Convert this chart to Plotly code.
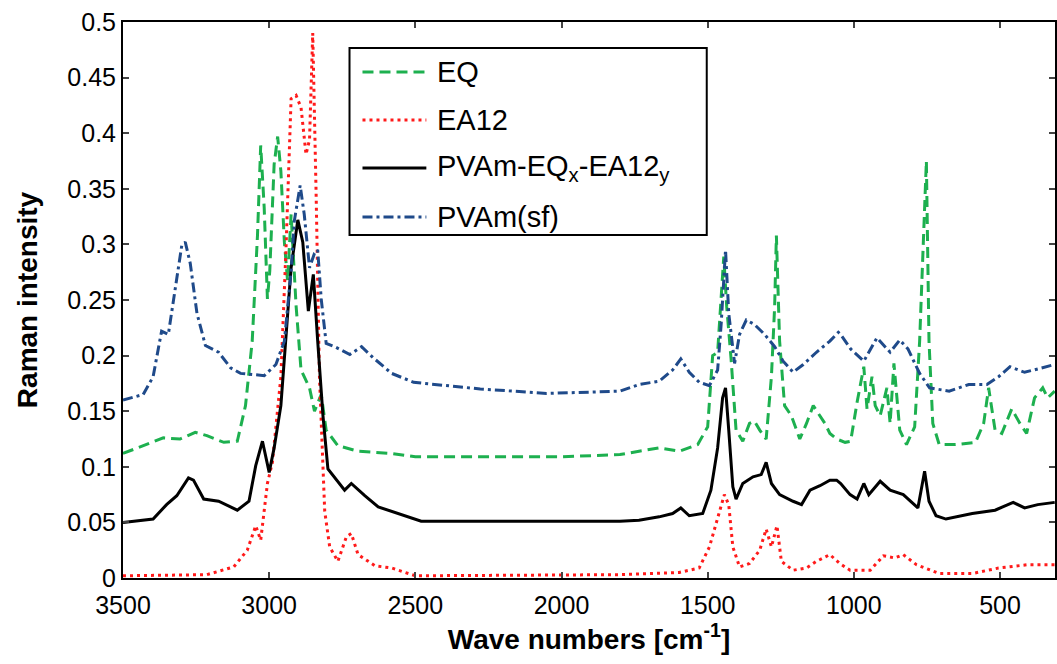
import plotly.graph_objects as go

# ---------------- data ----------------
sf_wn = [3500, 3431, 3397, 3368, 3345, 3322, 3299, 3287, 3270, 3247, 3218, 3173, 3132, 3098, 3017, 2977,
         2948, 2925, 2914, 2894, 2880, 2862, 2845, 2834, 2822, 2805, 2776, 2724, 2684, 2644, 2581, 2506,
         2278, 2051, 1800, 1735, 1666, 1620, 1592, 1563, 1529, 1494, 1466, 1454, 1439, 1428, 1408, 1391,
         1368, 1340, 1305, 1271, 1242, 1208, 1173, 1128, 1082, 1053, 1045, 1011, 966, 921, 876, 843, 815,
         775, 741, 674, 607, 545, 505, 466, 416, 371, 313]
sf_val = [.160, .165, .181, .222, .219, .257, .299, .302, .283, .238, .209, .203, .189, .184, .182, .192,
          .213, .276, .321, .353, .327, .279, .292, .295, .251, .211, .208, .201, .208, .198, .184, .176,
          .170, .166, .168, .174, .177, .187, .197, .185, .176, .173, .187, .228, .295, .238, .193, .219,
          .232, .228, .219, .208, .195, .185, .192, .203, .213, .221, .219, .206, .195, .216, .203, .214, .206,
          .184, .171, .168, .174, .174, .181, .190, .185, .188, .192]

eq_wn = [3500, 3431, 3362, 3305, 3253, 3213, 3155, 3109, 3081, 3058, 3040, 3029, 3017, 3006, 2998, 2983,
         2971, 2960, 2948, 2937, 2925, 2908, 2891, 2862, 2845, 2822, 2805, 2765, 2696, 2581, 2500, 2000,
         1800, 1735, 1666, 1597, 1534, 1500, 1483, 1466, 1454, 1445, 1435, 1420, 1403, 1380, 1357, 1340,
         1322, 1300, 1282, 1271, 1265, 1254, 1237, 1214, 1185, 1162, 1139, 1116, 1099, 1082, 1059, 1030,
         1011, 989, 966, 955, 938, 927, 910, 887, 876, 863, 843, 820, 792, 775, 761, 752, 743, 730, 708,
         652, 584, 556, 539, 517, 494, 460, 432, 409, 382, 354, 337, 313]
eq_val = [.112, .119, .126, .125, .131, .128, .122, .123, .155, .213, .308, .389, .333, .251, .276, .372,
          .397, .366, .302, .267, .327, .245, .187, .171, .150, .165, .133, .119, .114, .112, .109, .109,
          .111, .114, .117, .114, .120, .136, .200, .203, .257, .289, .244, .197, .133, .123, .139, .141,
          .133, .125, .181, .244, .308, .213, .155, .146, .125, .139, .155, .146, .139, .130, .125, .122,
          .123, .158, .190, .152, .181, .155, .146, .171, .139, .193, .133, .120, .136, .213, .308, .375,
          .213, .139, .120, .120, .122, .139, .171, .133, .130, .152, .139, .130, .162, .171, .162, .168]

mix_wn = [3500, 3397, 3351, 3316, 3276, 3259, 3224, 3173, 3109, 3069, 3046, 3023, 3000, 2983, 2960, 2943,
          2925, 2902, 2885, 2866, 2849, 2834, 2816, 2799, 2742, 2719, 2673, 2627, 2581, 2480, 2000, 1800,
          1735, 1666, 1620, 1592, 1563, 1517, 1489, 1466, 1449, 1439, 1428, 1414, 1403, 1380, 1345, 1317,
          1300, 1282, 1254, 1208, 1179, 1150, 1116, 1082, 1059, 1045, 1013, 989, 966, 949, 910, 876, 831,
          781, 758, 743, 719, 685, 595, 517, 455, 416, 371, 313]
mix_val = [.050, .053, .066, .074, .090, .088, .071, .069, .061, .069, .101, .123, .095, .117, .155, .219,
           .279, .322, .302, .240, .273, .213, .146, .098, .079, .085, .074, .064, .060, .051, .051, .051,
           .052, .055, .058, .063, .056, .058, .079, .117, .162, .171, .133, .082, .071, .085, .091, .093,
           .104, .085, .075, .069, .066, .079, .083, .088, .088, .085, .075, .071, .085, .075, .087, .079, .075,
           .063, .096, .069, .056, .053, .058, .061, .068, .063, .066, .068]

ea_wn = [3500, 3213, 3121, 3075, 3046, 3029, 3006, 2989, 2960, 2943, 2925, 2908, 2891, 2874, 2862, 2851,
         2839, 2828, 2810, 2793, 2765, 2736, 2719, 2696, 2638, 2581, 2500, 1800, 1597, 1529, 1494, 1466,
         1443, 1428, 1414, 1391, 1357, 1322, 1300, 1282, 1263, 1248, 1208, 1162, 1128, 1082, 1048, 1013,
         944, 899, 860, 831, 786, 708, 595, 505, 404, 313]
ea_val = [.002, .003, .010, .025, .047, .034, .085, .104, .181, .292, .431, .434, .423, .381, .394, .490,
          .340, .181, .060, .028, .015, .037, .040, .021, .011, .009, .002, .003, .005, .009, .028, .053,
          .075, .066, .028, .010, .013, .025, .044, .028, .047, .015, .007, .009, .015, .021, .013, .007,
          .007, .020, .018, .021, .012, .004, .004, .009, .012, .012]

x_ticks = [3500, 3000, 2500, 2000, 1500, 1000, 500]
names = ["EQ", "EA12", "PVAm-EQ<sub>x</sub>-EA12<sub>y</sub>", "PVAm(sf)"]
colors = ["#1db04f", "#ff1a1a", "#000000", "#1f4a8a"]
dashes = ["11px,6px", "3px,4px", "solid", "10px,4px,3px,4px"]

series = [(eq_wn, eq_val), (ea_wn, ea_val), (mix_wn, mix_val), (sf_wn, sf_val)]

fig = go.Figure()
for (wx, wy), nm, col, ds in zip(series, names, colors, dashes):
    fig.add_trace(go.Scatter(x=wx, y=wy, mode="lines", name=nm,
                             line=dict(color=col, width=3, dash=ds), showlegend=False))

# ---------------- manual legend ----------------
L = 123; W = 934; B = 578; H = 556
def px(v):
    return (v - L) / W
def py(v):
    return (B - v) / H

fig.add_shape(type="rect", xref="paper", yref="paper", x0=px(350), x1=px(708), y0=py(235), y1=py(48),
              line=dict(color="black", width=2), fillcolor="white", layer="above")
item_y = [72, 120, 168, 217]
for yy, nm, col, ds in zip(item_y, names, colors, dashes):
    fig.add_shape(type="line", xref="paper", yref="paper", x0=px(363), x1=px(427), y0=py(yy), y1=py(yy),
                  line=dict(color=col, width=3, dash=ds), layer="above")
    fig.add_annotation(xref="paper", yref="paper", x=px(436), y=py(yy), text=nm, showarrow=False,
                       xanchor="left", yanchor="middle",
                       font=dict(family="Liberation Sans, Arial", size=29, color="black"))

fig.update_layout(
    width=1057, height=664,
    margin=dict(l=123, r=0, t=22, b=86),
    plot_bgcolor="white", paper_bgcolor="white",
    font=dict(family="Liberation Sans, Arial", size=24, color="black"),
    xaxis=dict(range=[3500, 312], tickvals=x_ticks, ticks="inside", ticklen=6, tickwidth=2,
               showline=True, linecolor="black", linewidth=2, mirror="ticks", showgrid=False,
               zeroline=False, tickfont=dict(size=25), ticklabelstandoff=4,
               title=dict(text="<b>Wave numbers [cm<sup>-1</sup>]</b>", font=dict(size=28), standoff=6)),
    yaxis=dict(range=[0, 0.5], dtick=0.05, ticks="inside", ticklen=6, tickwidth=2,
               showline=True, linecolor="black", linewidth=2, mirror="ticks", showgrid=False,
               zeroline=False, tickfont=dict(size=25),
               title=dict(text="<b>Raman intensity</b>", font=dict(size=28), standoff=22)),
)

fig.write_html("out.html")
